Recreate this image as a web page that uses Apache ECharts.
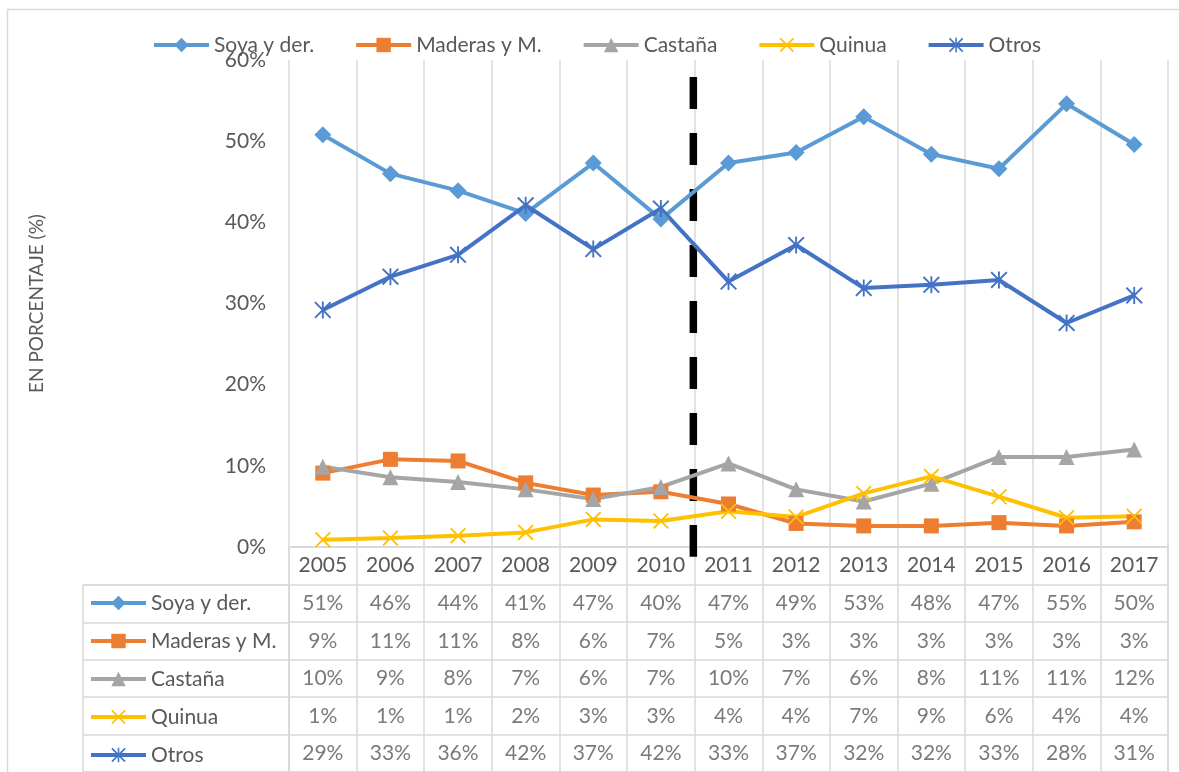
<!DOCTYPE html>
<html>
<head>
<meta charset="utf-8">
<script src="https://cdn.jsdelivr.net/npm/echarts@6/dist/echarts.min.js"></script>
<style>
  html, body { margin: 0; padding: 0; background: #fff; }
  #chart { width: 1179px; height: 772px; }
</style>
</head>
<body>
<div id="chart"></div>
<script>
// datos (porcentajes)
const years = ['2005', '2006', '2007', '2008', '2009', '2010', '2011', '2012', '2013', '2014', '2015', '2016', '2017']
const soya = [50.8, 46.0, 43.9, 41.1, 47.3, 40.4, 47.3, 48.6, 53.0, 48.4, 46.6, 54.6, 49.6]
const maderas = [9.1, 10.8, 10.6, 7.9, 6.4, 6.8, 5.3, 2.9, 2.6, 2.6, 3.0, 2.6, 3.1]
const castana = [9.9, 8.6, 8.0, 7.1, 5.9, 7.4, 10.3, 7.1, 5.6, 7.8, 11.1, 11.1, 12.0]
const quinua = [0.9, 1.1, 1.4, 1.8, 3.4, 3.2, 4.4, 3.7, 6.6, 8.7, 6.2, 3.6, 3.8]
const otros = [29.2, 33.3, 36.0, 42.1, 36.7, 41.7, 32.7, 37.2, 31.9, 32.3, 32.9, 27.6, 31.0]
const seriesNames = ['Soya y der.', 'Maderas y M.', 'Castaña', 'Quinua', 'Otros']
const yMax = 60
const yStep = 10
// linea de corte entre 2010 y 2011 (posicion en indice de categoria, % arriba / abajo)
const cutX = 5.48
const cutY = [57.9, -1.2]

const allValues = [soya, maderas, castana, quinua, otros]
const colors = ['#5B9BD5', '#ED7D31', '#A5A5A5', '#FFC000', '#4472C4']
const symX = 'path://M0,0.8L0.8,0L5,4.2L9.2,0L10,0.8L5.8,5L10,9.2L9.2,10L5,5.8L0.8,10L0,9.2L4.2,5Z'
const symStar = 'path://M0,0.8L0.8,0L5,4.2L9.2,0L10,0.8L5.8,5L10,9.2L9.2,10L5,5.8L0.8,10L0,9.2L4.2,5Z M4.45,0L5.55,0L5.55,10L4.45,10Z'
const symbols = ['diamond', 'rect', 'triangle', symX, symStar]
const symbolSizes = [17, 15, 16, 16, 17]

const FONT = 'Lato'
const FS = 21
const TXT = '#595959'
const GRID_LINE = '#d9d9d9'

const chart = echarts.init(document.getElementById('chart'))

// celdas de la tabla de datos
const tableData = []
allValues.forEach((vals, r) => {
  vals.forEach((v, i) => {
    tableData.push([i, r + 1, Math.round(v) + '%'])
  })
})

const lineSeries = allValues.map((vals, k) => ({
  name: seriesNames[k],
  type: 'line',
  xAxisIndex: 0,
  yAxisIndex: 0,
  data: vals,
  symbol: symbols[k],
  symbolSize: symbolSizes[k],
  showAllSymbol: true,
  lineStyle: { color: colors[k], width: 4 },
  itemStyle: { color: colors[k] },
  emphasis: { disabled: true },
  z: 3,
}))

const legendBase = {
  data: seriesNames,
  itemWidth: 55,
  itemHeight: 18,
  padding: 0,
  lineStyle: { width: 4 },
  textStyle: { color: TXT, fontSize: FS, lineHeight: 24, fontFamily: FONT },
}

const option = {
  animation: false,
  textStyle: { fontFamily: FONT },
  graphic: [
    {
      type: 'rect',
      left: 5,
      top: 7,
      shape: { width: 1300, height: 900 },
      style: { fill: 'none', stroke: GRID_LINE, lineWidth: 1.5 },
      silent: true,
    },
  ],
  legend: [
    Object.assign({}, legendBase, {
      left: 152,
      top: 33,
      itemGap: 40,
    }),
    Object.assign({}, legendBase, {
      orient: 'vertical',
      left: 89,
      top: 591,
      itemGap: 14,
    }),
  ],
  grid: [
    // area del grafico
    { left: 289, right: 11, top: 60, bottom: 225 },
    // cuerpo de la tabla
    { left: 289, right: 11, top: 547, bottom: -2, show: true, borderColor: GRID_LINE, borderWidth: 1.5, backgroundColor: 'transparent' },
    // columna de claves
    { left: 83, width: 206, top: 585, bottom: -2, show: true, borderColor: GRID_LINE, borderWidth: 1.5, backgroundColor: 'transparent' },
  ],
  xAxis: [
    {
      gridIndex: 0,
      type: 'category',
      data: years,
      boundaryGap: true,
      axisLine: { show: true, lineStyle: { color: GRID_LINE, width: 1.5 } },
      axisTick: { show: false },
      axisLabel: { color: TXT, fontSize: FS, fontFamily: FONT, margin: 8 },
      splitLine: { show: true, showMinLine: true, showMaxLine: true, lineStyle: { color: GRID_LINE, width: 1.5 } },
    },
    { gridIndex: 0, type: 'value', min: -0.5, max: 12.5, show: false },
    {
      gridIndex: 1,
      type: 'category',
      data: years,
      boundaryGap: true,
      axisLine: { show: false },
      axisTick: { show: false },
      axisLabel: { show: false },
      splitLine: { show: true, lineStyle: { color: GRID_LINE, width: 1.5 } },
    },
    { gridIndex: 2, type: 'value', show: false },
  ],
  yAxis: [
    {
      gridIndex: 0,
      type: 'value',
      min: 0,
      max: yMax,
      interval: yStep,
      name: 'EN PORCENTAJE (%)',
      nameLocation: 'middle',
      nameGap: 243,
      nameTextStyle: { color: TXT, fontSize: 19, fontFamily: FONT },
      axisLine: { show: false },
      axisTick: { show: false },
      axisLabel: { color: TXT, fontSize: FS, fontFamily: FONT, margin: 23, formatter: (v) => v + '%' },
      splitLine: { show: false },
    },
    {
      gridIndex: 1,
      type: 'category',
      inverse: true,
      data: [''].concat(seriesNames),
      boundaryGap: true,
      axisLine: { show: false },
      axisTick: { show: false },
      axisLabel: { show: false },
      splitLine: { show: true, lineStyle: { color: GRID_LINE, width: 1.5 } },
    },
    {
      gridIndex: 2,
      type: 'category',
      inverse: true,
      data: seriesNames,
      boundaryGap: true,
      axisLine: { show: false },
      axisTick: { show: false },
      axisLabel: { show: false },
      splitLine: { show: true, lineStyle: { color: GRID_LINE, width: 1.5 } },
    },
  ],
  series: [
    {
      name: 'corte',
      type: 'line',
      xAxisIndex: 1,
      yAxisIndex: 0,
      data: [[cutX, cutY[0]], [cutX, cutY[1]]],
      symbol: 'none',
      clip: false,
      silent: true,
      lineStyle: { color: '#000', width: 7.5, type: [32, 24] },
      z: 2,
    },
    ...lineSeries,
    {
      name: 'tabla',
      type: 'scatter',
      xAxisIndex: 2,
      yAxisIndex: 1,
      data: tableData,
      symbolSize: 1,
      silent: true,
      itemStyle: { color: 'rgba(0,0,0,0)' },
      label: {
        show: true,
        position: 'inside',
        formatter: (p) => p.value[2],
        color: TXT,
        fontSize: FS,
        fontFamily: FONT,
      },
    },
  ],
}
chart.setOption(option)
</script>
</body>
</html>
